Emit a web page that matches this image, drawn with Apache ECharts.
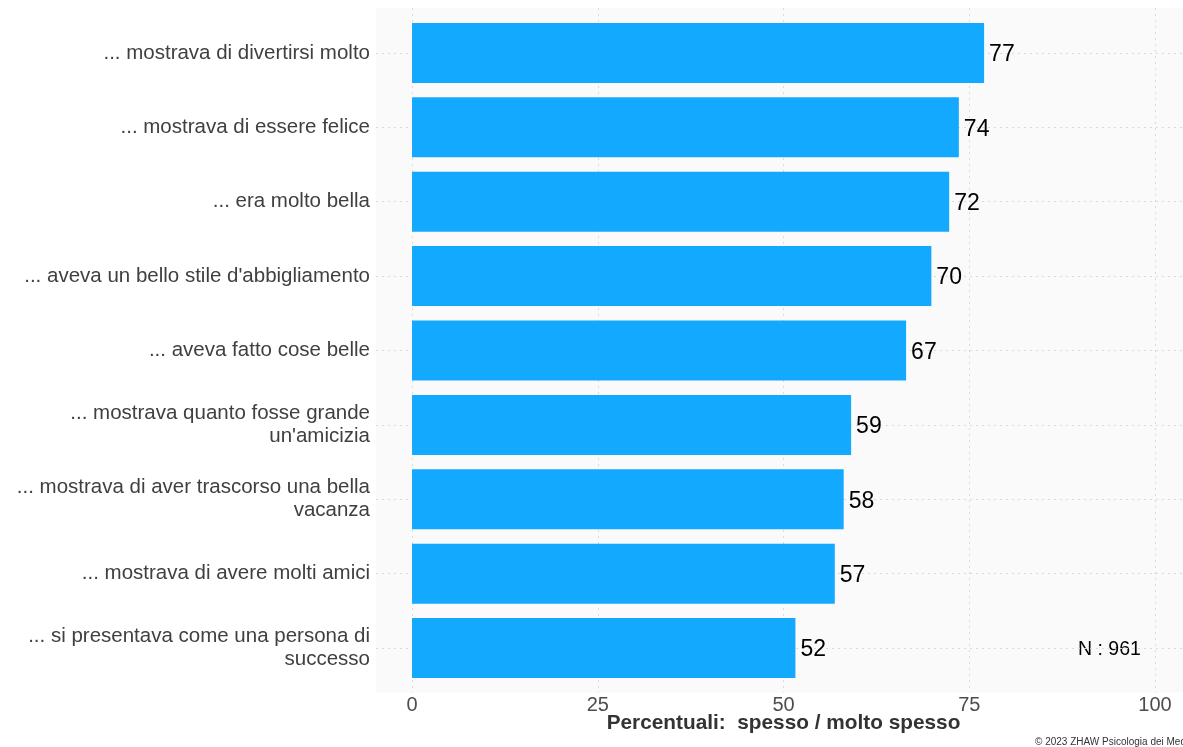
<!DOCTYPE html>
<html>
<head>
    <meta charset="utf-8">
    <title>Percentuali</title>
    <script src="https://cdn.jsdelivr.net/npm/echarts@6/dist/echarts.min.js"></script>
    <style>
        html, body { margin: 0; padding: 0; background: #ffffff; }
        #chart { width: 1183px; height: 747px; }
    </style>
</head>
<body>
<div id="chart"></div>
<script>
    // dati
    const categories = [
        '... mostrava di divertirsi molto',
        '... mostrava di essere felice',
        '... era molto bella',
        "... aveva un bello stile d'abbigliamento",
        '... aveva fatto cose belle',
        "... mostrava quanto fosse grande\nun'amicizia",
        '... mostrava di aver trascorso una bella\nvacanza',
        '... mostrava di avere molti amici',
        '... si presentava come una persona di\nsuccesso'
    ]
    const values = [77.0, 73.6, 72.3, 69.9, 66.5, 59.1, 58.1, 56.9, 51.6]
    const xTicks = [0, 25, 50, 75, 100]
    const sampleSize = 961

    const font = "'Liberation Sans', Arial, sans-serif"
    const gridLine = {
        show: true,
        lineStyle: { color: '#dadada', width: 1, type: [2, 4] }
    }

    const myChart = echarts.init(document.getElementById('chart'))

    let option = {
        animation: false,
        textStyle: { fontFamily: font },
        grid: [
            // pannello (sfondo + griglia verticale)
            { left: 376, right: 0, top: 8, bottom: 54.4, show: true, backgroundColor: '#fafafa', borderWidth: 0 },
            // barre
            { left: 376, right: 0, top: 15.8, bottom: 61.8 }
        ],
        xAxis: [
            {
                gridIndex: 0,
                type: 'value',
                min: -4.85,
                max: 103.77,
                axisLine: { show: false },
                axisTick: { show: false, customValues: xTicks },
                axisLabel: {
                    customValues: xTicks,
                    color: '#4d4d4d',
                    fontSize: 20,
                    margin: 3,
                    fontFamily: font
                },
                splitLine: gridLine
            },
            {
                gridIndex: 1,
                type: 'value',
                min: -4.85,
                max: 103.77,
                show: false,
                splitLine: { show: false }
            }
        ],
        yAxis: [
            {
                gridIndex: 0,
                type: 'value',
                show: false,
                splitLine: { show: false }
            },
            {
                gridIndex: 1,
                type: 'category',
                inverse: true,
                data: categories,
                axisLine: { show: false },
                axisTick: { show: false, alignWithLabel: true },
                axisLabel: {
                    color: '#404040',
                    fontSize: 20.5,
                    lineHeight: 23,
                    margin: 6,
                    align: 'right',
                    padding: [4, 0, 0, 0],
                    fontFamily: font
                },
                splitLine: Object.assign({ alignWithLabel: true }, gridLine)
            }
        ],
        series: [
            {
                type: 'bar',
                xAxisIndex: 1,
                yAxisIndex: 1,
                data: values,
                barWidth: 60,
                itemStyle: { color: '#13a9fe' },
                label: {
                    show: true,
                    position: 'right',
                    distance: 5,
                    offset: [0, 2],
                    color: '#000000',
                    fontSize: 23,
                    fontFamily: font,
                    formatter: p => Math.round(p.value)
                }
            }
        ],
        graphic: [
            {
                type: 'text',
                left: 1078,
                top: 640,
                style: { text: 'N : ' + sampleSize, font: '19.5px ' + font, fill: '#000000' }
            },
            {
                type: 'text',
                x: 783.5,
                y: 723,
                style: {
                    text: 'Percentuali:  spesso / molto spesso',
                    font: 'bold 20.8px ' + font,
                    fill: '#333333',
                    align: 'center',
                    verticalAlign: 'middle'
                }
            },
            {
                type: 'text',
                x: 1035,
                y: 742,
                style: {
                    text: '\u00a9 2023 ZHAW Psicologia dei Media',
                    font: '10px ' + font,
                    fill: '#333333',
                    verticalAlign: 'middle'
                }
            }
        ]
    }

    myChart.setOption(option)
</script>
</body>
</html>
